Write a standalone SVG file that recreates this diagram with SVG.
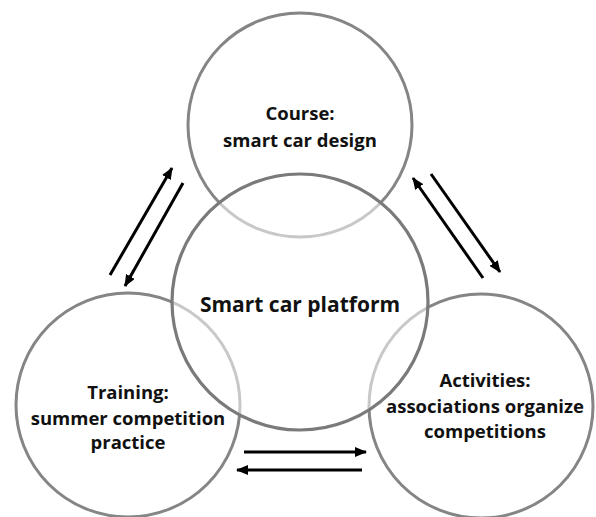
<svg xmlns="http://www.w3.org/2000/svg" width="596" height="517" viewBox="0 0 596 517">
<defs>
<marker id="ah" viewBox="0 0 12 10" refX="11" refY="5" markerWidth="12" markerHeight="10" markerUnits="userSpaceOnUse" orient="auto">
<path d="M0,0 L12,5 L0,10 Z" fill="#000"/>
</marker>
</defs>
<style>
.c{fill:none;stroke:#858585;stroke-width:3}
.m{fill:#fff;fill-opacity:0.55;stroke:#7a7a7a;stroke-width:3.2}
.t{font-family:"Open Sans","Noto Sans",sans-serif;font-weight:700;font-size:18.5px;fill:#111;text-anchor:middle}
.b{font-size:21px}
.a{stroke:#000;stroke-width:3;fill:none;marker-end:url(#ah)}
</style>
<rect width="596" height="517" fill="#fff"/>
<g id="course"><circle class="c" cx="300" cy="125" r="112"/></g>
<g id="training"><circle class="c" cx="128" cy="405" r="112"/></g>
<g id="activities"><circle class="c" cx="481" cy="406" r="112"/></g>
<g id="platform"><circle class="m" cx="300" cy="302" r="128"/></g>
<g id="labels">
<text class="t" x="300" y="120">Course:</text>
<text class="t" x="300" y="147">smart car design</text>
<text class="t b" x="300" y="312">Smart car platform</text>
<text class="t" x="128" y="399">Training:</text>
<text class="t" x="128" y="425">summer competition</text>
<text class="t" x="128" y="449">practice</text>
<text class="t" x="485" y="387">Activities:</text>
<text class="t" x="485" y="413">associations organize</text>
<text class="t" x="485" y="438">competitions</text>
</g>
<g id="connectors">
<line class="a" x1="110" y1="275" x2="172" y2="168"/>
<line class="a" x1="183" y1="183" x2="125" y2="286"/>
<line class="a" x1="483" y1="278" x2="413" y2="178"/>
<line class="a" x1="431" y1="174" x2="500" y2="272"/>
<line class="a" x1="244" y1="452" x2="366" y2="452"/>
<line class="a" x1="362" y1="470" x2="237" y2="470"/>
</g>
</svg>
